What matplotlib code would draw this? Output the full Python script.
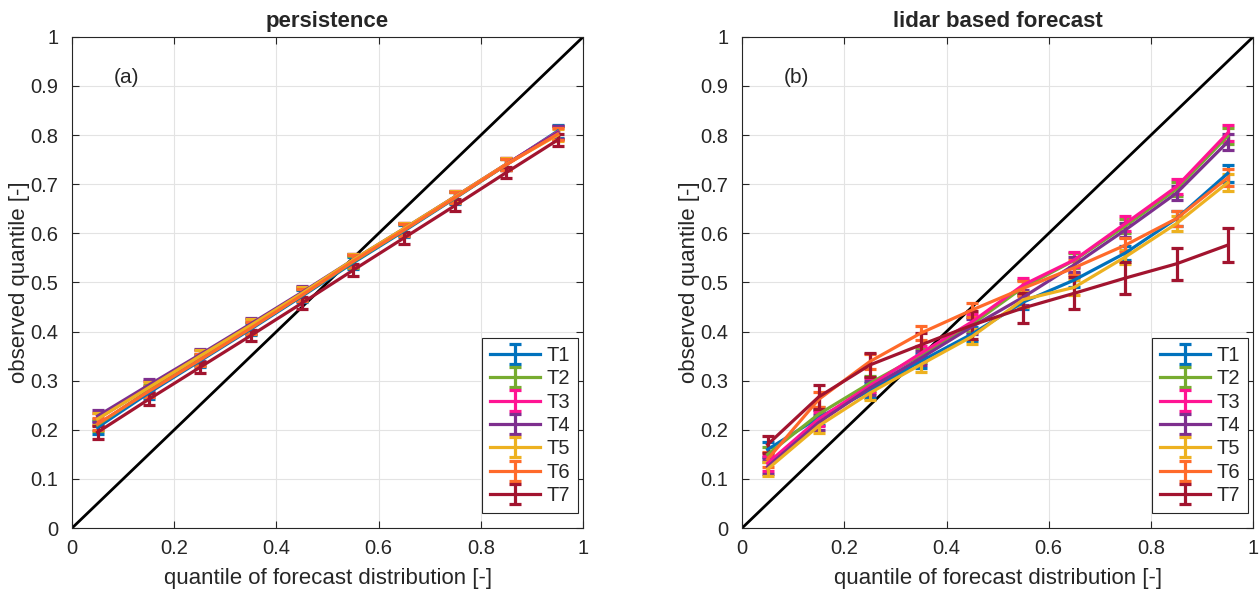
import numpy as np
import matplotlib
matplotlib.use('Agg')
import matplotlib.pyplot as plt

plt.rcParams['font.family'] = ['Liberation Sans', 'DejaVu Sans']
plt.rcParams['text.color'] = '#262626'
plt.rcParams['axes.labelcolor'] = '#262626'
plt.rcParams['xtick.labelcolor'] = '#262626'
plt.rcParams['ytick.labelcolor'] = '#262626'

# forecast quantile levels
q = [0.05, 0.15, 0.25, 0.35, 0.45, 0.55, 0.65, 0.75, 0.85, 0.95]
labels = ['T1', 'T2', 'T3', 'T4', 'T5', 'T6', 'T7']
colors = ['#0072BD', '#77AC30', '#FF1493', '#7E2F8E', '#EDB120', '#FF6A2A', '#A2142F']

# (a) persistence
pers_T1 = [0.205, 0.275, 0.340, 0.405, 0.472, 0.540, 0.605, 0.672, 0.740, 0.808]
pers_T2 = [0.210, 0.280, 0.343, 0.408, 0.474, 0.542, 0.607, 0.673, 0.740, 0.806]
pers_T3 = [0.222, 0.287, 0.350, 0.414, 0.478, 0.545, 0.609, 0.675, 0.741, 0.806]
pers_T4 = [0.228, 0.291, 0.353, 0.416, 0.480, 0.546, 0.610, 0.675, 0.741, 0.805]
pers_T5 = [0.222, 0.286, 0.350, 0.413, 0.478, 0.546, 0.610, 0.675, 0.741, 0.800]
pers_T6 = [0.212, 0.278, 0.342, 0.407, 0.474, 0.543, 0.607, 0.673, 0.740, 0.802]
pers_T7 = [0.195, 0.262, 0.327, 0.392, 0.458, 0.525, 0.591, 0.657, 0.724, 0.790]
pers_err = [0.013, 0.012, 0.012, 0.012, 0.012, 0.012, 0.012, 0.012, 0.012, 0.013]

# (b) lidar based forecast
lid_T1 = [0.160, 0.225, 0.280, 0.340, 0.395, 0.460, 0.505, 0.560, 0.630, 0.722]
lid_T2 = [0.150, 0.232, 0.295, 0.352, 0.415, 0.490, 0.545, 0.615, 0.690, 0.798]
lid_T3 = [0.132, 0.222, 0.290, 0.356, 0.420, 0.495, 0.546, 0.620, 0.695, 0.804]
lid_T4 = [0.125, 0.215, 0.285, 0.346, 0.410, 0.470, 0.536, 0.607, 0.682, 0.786]
lid_T5 = [0.120, 0.208, 0.275, 0.333, 0.390, 0.465, 0.490, 0.552, 0.620, 0.703]
lid_T6 = [0.140, 0.262, 0.339, 0.397, 0.444, 0.488, 0.530, 0.576, 0.630, 0.713]
lid_T7 = [0.170, 0.267, 0.332, 0.373, 0.413, 0.448, 0.478, 0.509, 0.538, 0.576]
lid_err = [0.015, 0.015, 0.015, 0.015, 0.015, 0.015, 0.015, 0.015, 0.015, 0.017]
lid_err_T7 = [0.018, 0.025, 0.025, 0.025, 0.028, 0.030, 0.033, 0.033, 0.033, 0.035]

pers = [pers_T1, pers_T2, pers_T3, pers_T4, pers_T5, pers_T6, pers_T7]
lid = [lid_T1, lid_T2, lid_T3, lid_T4, lid_T5, lid_T6, lid_T7]
pers_errs = [pers_err] * 7
lid_errs = [lid_err] * 6 + [lid_err_T7]

xticks = [0, 0.2, 0.4, 0.6, 0.8, 1]
xticklabels = ['0', '0.2', '0.4', '0.6', '0.8', '1']
yticks = np.round(np.arange(0, 1.01, 0.1), 1)
yticklabels = ['0'] + ['%.1f' % t for t in yticks[1:-1]] + ['1']


def draw(ax, series, errs, title, tag):
    ax.plot([0, 1], [0, 1], color='black', lw=2, zorder=2)
    for s, e, c, lab in zip(series, errs, colors, labels):
        ax.errorbar(q, s, yerr=e, color=c, lw=2.3, elinewidth=2.3,
                    capsize=4, capthick=2.3, label=lab, zorder=3)
    ax.set_xlim(0, 1)
    ax.set_ylim(0, 1)
    ax.set_xticks(xticks)
    ax.set_yticks(yticks)
    ax.set_xticklabels(xticklabels, fontsize=14.5)
    ax.set_yticklabels(yticklabels, fontsize=14.5)
    ax.grid(True, color='#e3e3e3', lw=0.8)
    ax.set_axisbelow(True)
    ax.tick_params(direction='in', top=True, right=True, length=5, color='#262626')
    ax.tick_params(axis='x', pad=8)
    ax.tick_params(axis='y', pad=10)
    for sp in ax.spines.values():
        sp.set_color('#262626')
        sp.set_linewidth(0.8)
    ax.set_title(title, fontsize=16, fontweight='bold', pad=7)
    ax.set_xlabel('quantile of forecast distribution [-]', fontsize=16, labelpad=7)
    ax.set_ylabel('observed quantile [-]', fontsize=16, labelpad=0)
    ax.text(0.107, 0.918, tag, fontsize=15, ha='center', va='center')
    leg = ax.legend(loc='lower right', bbox_to_anchor=(0.99, 0.03), borderaxespad=0,
                    fontsize=14.5, handlelength=2.5, fancybox=False, framealpha=1,
                    edgecolor='#262626', labelspacing=0.22, handletextpad=0.3,
                    borderpad=0.4)
    leg.get_frame().set_linewidth(0.8)


fig = plt.figure(figsize=(12.59, 5.94), dpi=100)
ax1 = fig.add_axes([0.0572, 0.111, 0.406, 0.827])
ax2 = fig.add_axes([0.5894, 0.111, 0.406, 0.827])

draw(ax1, pers, pers_errs, 'persistence', '(a)')
draw(ax2, lid, lid_errs, 'lidar based forecast', '(b)')

fig.savefig('out.png', dpi=100)
